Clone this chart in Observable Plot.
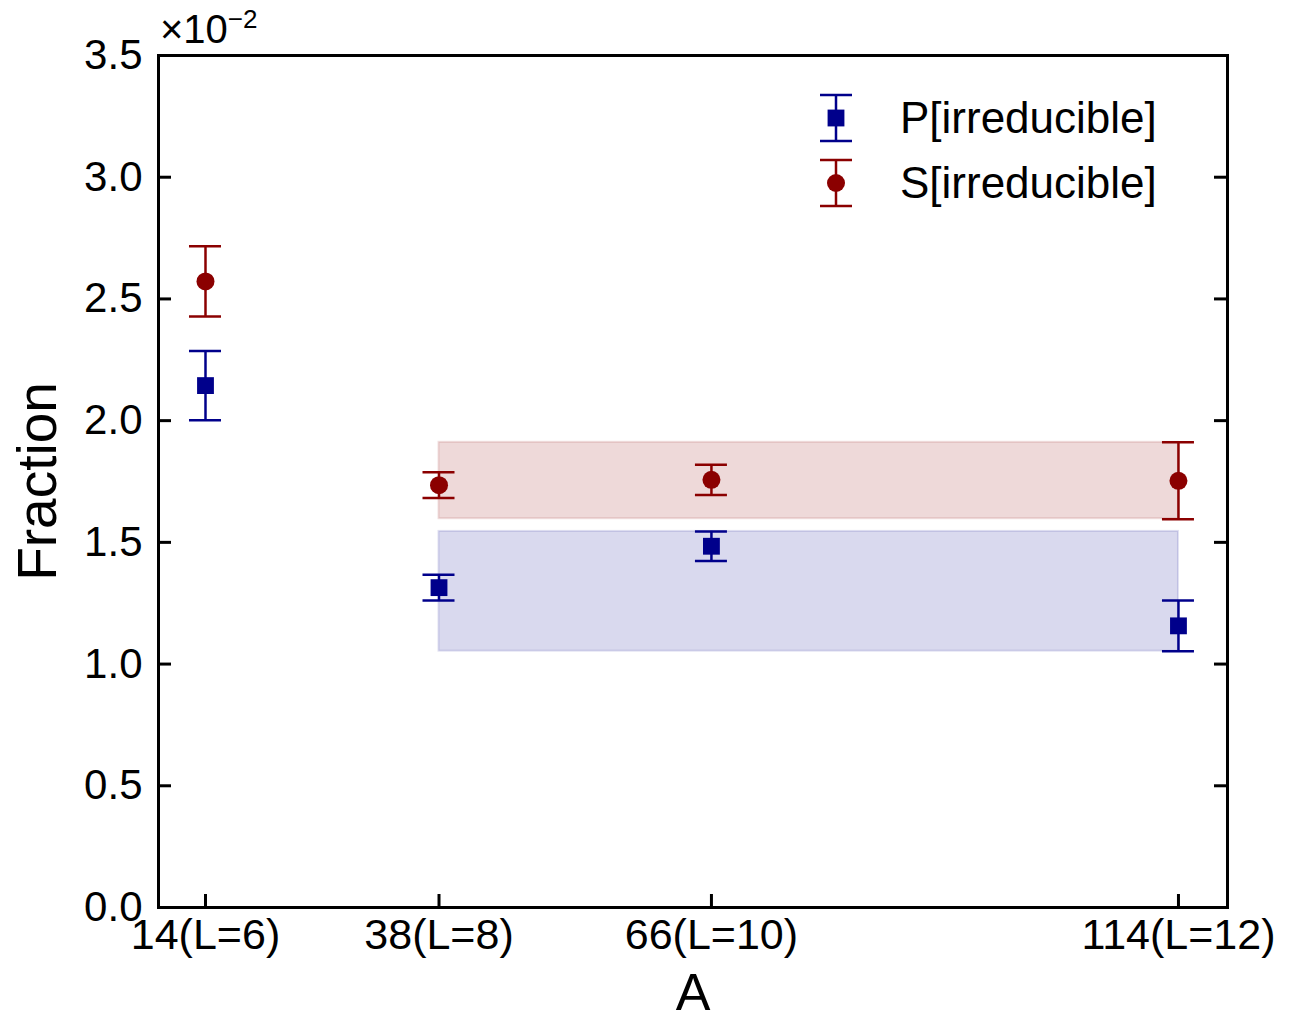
<!DOCTYPE html>
<html><head><meta charset="utf-8">
<script src="https://cdn.jsdelivr.net/npm/d3@7"></script>
<script src="https://cdn.jsdelivr.net/npm/@observablehq/plot@0.6"></script>
<style>
body{margin:0;background:#fff;}
#wrap{position:relative;width:1289px;height:1021px;}
svg{font-family:"Liberation Sans",Arial,Helvetica,sans-serif;}
</style></head><body><div id="wrap"></div>
<script>
const A = [14, 38, 66, 114];
const xTickLabels = ["14(L=6)", "38(L=8)", "66(L=10)", "114(L=12)"];
const pValue = [2.144, 1.314, 1.484, 1.157];
const pErr = [0.142, 0.053, 0.061, 0.104];
const sValue = [2.572, 1.735, 1.757, 1.753];
const sErr = [0.144, 0.053, 0.062, 0.158];
const bandX = [38, 114];
const pBand = [1.053, 1.545];
const sBand = [1.597, 1.911];
const yTicks = [0, 0.5, 1, 1.5, 2, 2.5, 3, 3.5];
const seriesNames = ["P[irreducible]", "S[irreducible]"];

const BLUE = "#00008B", RED = "#8B0000";
const W = 1289, H = 1021, mL = 158, mR = 62, mT = 55, mB = 114;
const fw = W - mL - mR, fh = H - mT - mB;

const pData = A.map((a, i) => ({a, v: pValue[i], lo: pValue[i] - pErr[i], hi: pValue[i] + pErr[i]}));
const sData = A.map((a, i) => ({a, v: sValue[i], lo: sValue[i] - sErr[i], hi: sValue[i] + sErr[i]}));
const bands = [
  {x1: bandX[0], x2: bandX[1], y1: sBand[0], y2: sBand[1], c: RED},
  {x1: bandX[0], x2: bandX[1], y1: pBand[0], y2: pBand[1], c: BLUE}
];

function errMarks(data, color, symbol, r) {
  return [
    Plot.ruleX(data, {x: "a", y1: "lo", y2: "hi", stroke: color, strokeWidth: 2.5}),
    Plot.ruleY(data, {y: "lo", x1: "a", x2: "a", insetLeft: -16, insetRight: -16, stroke: color, strokeWidth: 2.5}),
    Plot.ruleY(data, {y: "hi", x1: "a", x2: "a", insetLeft: -16, insetRight: -16, stroke: color, strokeWidth: 2.5}),
    Plot.dot(data, {x: "a", y: "v", fill: color, stroke: "none", symbol, r})
  ];
}

const chart = Plot.plot({
  width: W, height: H,
  marginLeft: mL, marginRight: mR, marginTop: mT, marginBottom: mB,
  style: {fontFamily: '"Liberation Sans", Arial, Helvetica, sans-serif', background: "#fff", color: "#000"},
  x: {type: "linear", domain: [9.17, 119.04]},
  y: {domain: [0, 3.5]},
  marks: [
    Plot.rect(bands, {x1: "x1", x2: "x2", y1: "y1", y2: "y2", fill: "c", fillOpacity: 0.15, stroke: "c", strokeOpacity: 0.12, strokeWidth: 2}),
    ...errMarks(pData, BLUE, "square", 9.5),
    ...errMarks(sData, RED, "circle", 9),
    Plot.tickY(yTicks, {y: d => d, insetRight: fw - 13, stroke: "#000", strokeWidth: 3}),
    Plot.tickY(yTicks, {y: d => d, insetLeft: fw - 13, stroke: "#000", strokeWidth: 3}),
    Plot.tickX(A, {x: d => d, insetTop: fh - 13, stroke: "#000", strokeWidth: 3}),
    Plot.frame({stroke: "#000", strokeWidth: 3}),
    Plot.axisY({ticks: yTicks, tickFormat: d => d.toFixed(1), tickSize: 0, tickPadding: 16, fontSize: 42, label: null}),
    Plot.axisX({ticks: A, tickFormat: (d) => xTickLabels[A.indexOf(d)], tickSize: 0, tickPadding: 11, fontSize: 43, label: null}),
    Plot.text(["Fraction"], {frameAnchor: "left", text: d => d, rotate: -90, dx: -120, fontSize: 55, textAnchor: "middle", lineAnchor: "middle", fill: "#000"}),
    Plot.text(["A"], {frameAnchor: "bottom", text: d => d, dy: 86, fontSize: 52, textAnchor: "middle", lineAnchor: "middle", fill: "#000"})
  ]
});
document.getElementById("wrap").appendChild(chart);

// exponent annotation
const svg = d3.select(chart);
const ex = svg.append("text").attr("x", 160).attr("y", 43).attr("font-size", 40).attr("fill", "#000").attr("text-anchor", "start");
ex.append("tspan").text("×10");
ex.append("tspan").attr("font-size", 26).attr("dy", -15).text("−2");

// legend
const legend = svg.append("g").attr("text-anchor", "start");
const legItems = [
  {name: seriesNames[0], color: BLUE, sym: d3.symbolSquare, size: 9.5 * 9.5 * Math.PI, y: 118},
  {name: seriesNames[1], color: RED, sym: d3.symbolCircle, size: 9 * 9 * Math.PI, y: 183}
];
legItems.forEach(it => {
  const g = legend.append("g").attr("transform", `translate(836,${it.y})`);
  g.append("line").attr("y1", -23).attr("y2", 23).attr("stroke", it.color).attr("stroke-width", 2.5);
  g.append("line").attr("x1", -16).attr("x2", 16).attr("y1", -23).attr("y2", -23).attr("stroke", it.color).attr("stroke-width", 2.5);
  g.append("line").attr("x1", -16).attr("x2", 16).attr("y1", 23).attr("y2", 23).attr("stroke", it.color).attr("stroke-width", 2.5);
  g.append("path").attr("d", d3.symbol(it.sym, it.size)()).attr("fill", it.color);
  g.append("text").attr("x", 64).attr("y", 0).attr("dy", "0.35em").attr("font-size", 44).attr("fill", "#000").attr("text-anchor", "start").text(it.name);
});
</script></body></html>
